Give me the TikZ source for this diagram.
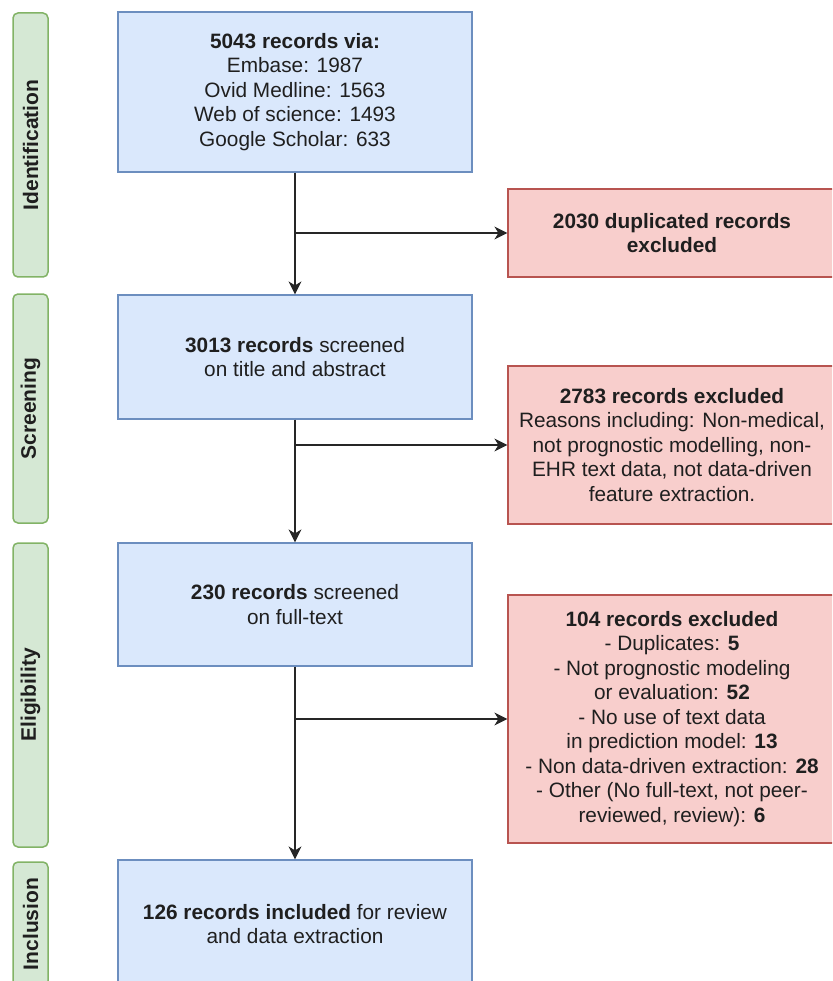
\documentclass[tikz,border=0pt]{standalone}
\usepackage{fontspec}
\setmainfont{Liberation Sans}
\usetikzlibrary{arrows.meta}
\definecolor{boxblue}{HTML}{DAE8FC}
\definecolor{lineblue}{HTML}{6C8EBF}
\definecolor{boxred}{HTML}{F8CECC}
\definecolor{linered}{HTML}{B85450}
\definecolor{boxgreen}{HTML}{D5E8D4}
\definecolor{linegreen}{HTML}{82B366}
\begin{document}
\begin{tikzpicture}[x=1pt,y=-1pt,
  every node/.style={font=\fontsize{20.8}{24.5}\selectfont, align=center, inner sep=0pt, text=black!88},
  recbox/.style={draw=lineblue, fill=boxblue, line width=1.2pt, minimum width=354pt},
  exbox/.style={draw=linered, fill=boxred, line width=1.2pt, minimum width=328pt},
  phase/.style={draw=linegreen, fill=boxgreen, line width=1.5pt, rounded corners=5pt, minimum height=35pt, rotate=90, font=\bfseries\fontsize{21}{24}\selectfont},
  flow/.style={-{Stealth[length=13pt,width=13pt,inset=4pt]}, line width=1.3pt, draw=black!85}]
\useasboundingbox (0,0) rectangle (832,981);
\clip (0,0) rectangle (832,981);
\node [phase, minimum width=264pt] (ident) at (30.5,145) {Identification};
\node [phase, minimum width=229pt] (screen) at (30.5,408.5) {Screening};
\node [phase, minimum width=304pt] (elig) at (30.5,695) {Eligibility};
\node [phase, minimum width=124pt] (incl) at (30.5,924) {Inclusion};
\node [recbox, minimum height=160pt] (found) at (295,92) {\textbf{5043 records via:}\\Embase: 1987\\Ovid Medline: 1563\\Web of science: 1493\\Google Scholar: 633};
\node [recbox, minimum height=124pt] (title) at (295,357) {\textbf{3013 records} screened\\on title and abstract};
\node [recbox, minimum height=123pt] (full) at (295,604.5) {\textbf{230 records} screened\\on full-text};
\node [recbox, minimum height=128pt] (incld) at (295,924) {\textbf{126 records included} for review\\and data extraction};
\node [exbox, minimum height=88pt] (dupl) at (672,233) {\textbf{2030 duplicated records}\\\textbf{excluded}};
\node [exbox, minimum height=158pt] (exone) at (672,445) {\textbf{2783 records excluded}\\Reasons including: Non-medical,\\not prognostic modelling, non-\\EHR text data, not data-driven\\feature extraction.};
\node [exbox, minimum height=248pt] (extwo) at (672,719) {\textbf{104 records excluded}\\- Duplicates: \textbf{5}\\- Not prognostic modeling\\or evaluation: \textbf{52}\\- No use of text data\\in prediction model: \textbf{13}\\- Non data-driven extraction: \textbf{28}\\- Other (No full-text, not peer-\\reviewed, review): \textbf{6}};
\coordinate (j1) at (found.south |- dupl.west);
\coordinate (j2) at (title.south |- exone.west);
\coordinate (j3) at (full.south |- extwo.west);
\draw [flow] (found) -- (title);
\draw [flow] (title) -- (full);
\draw [flow] (full) -- (incld);
\draw [flow] (j1) -- (dupl);
\draw [flow] (j2) -- (exone);
\draw [flow] (j3) -- (extwo);
\end{tikzpicture}
\end{document}
